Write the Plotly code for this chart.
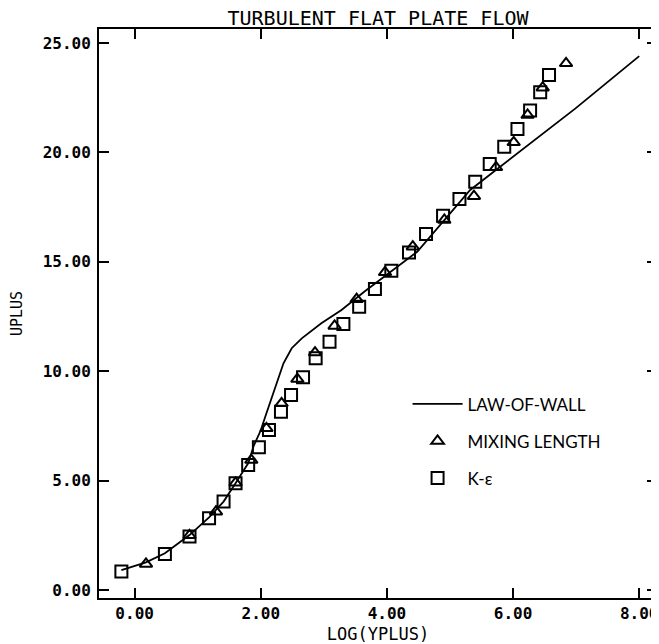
import plotly.graph_objects as go

# Law-of-wall curve
wall_x = [-0.21, 0.18, 0.48, 0.87, 1.18, 1.41, 1.60, 1.80, 1.89, 2.00, 2.08, 2.23, 2.36,
          2.49, 2.65, 2.96, 3.28, 3.64, 4.06, 4.48, 5.32, 6.99, 8.00]
wall_y = [0.91, 1.26, 1.68, 2.51, 3.32, 4.04, 4.88, 5.79, 6.60, 7.30, 8.00, 9.29, 10.36,
          11.05, 11.50, 12.19, 12.80, 13.63, 14.55, 15.46, 18.28, 22.01, 24.40]

# Mixing length (triangles)
ml_x = [0.18, 0.87, 1.29, 1.60, 1.85, 2.09, 2.33, 2.58, 2.86, 3.17, 3.52, 3.97, 4.41,
        4.91, 5.38, 5.73, 6.01, 6.23, 6.47, 6.84]
ml_y = [1.19, 2.50, 3.58, 4.90, 5.94, 7.39, 8.53, 9.64, 10.85, 12.07, 13.29, 14.52, 15.69,
        16.91, 18.00, 19.32, 20.46, 21.71, 22.96, 24.07]

# K-epsilon (squares)
ke_x = [-0.21, 0.48, 0.87, 1.18, 1.41, 1.60, 1.80, 1.97, 2.13, 2.32, 2.48, 2.67, 2.87,
        3.09, 3.31, 3.56, 3.81, 4.07, 4.35, 4.62, 4.89, 5.15, 5.40, 5.63, 5.86, 6.07,
        6.27, 6.43, 6.57]
ke_y = [0.84, 1.65, 2.44, 3.28, 4.04, 4.88, 5.71, 6.52, 7.31, 8.15, 8.91, 9.72, 10.59,
        11.35, 12.16, 12.95, 13.76, 14.59, 15.42, 16.27, 17.11, 17.87, 18.66, 19.47, 20.26,
        21.07, 21.91, 22.75, 23.54]

x_ticks = [0, 2, 4, 6, 8]
x_labels = ["0.00", "2.00", "4.00", "6.00", "8.00"]
y_ticks = [0, 5, 10, 15, 20, 25]
y_labels = ["0.00", "5.00", "10.00", "15.00", "20.00", "25.00"]

fig = go.Figure()
fig.add_trace(go.Scatter(x=wall_x, y=wall_y, mode="lines", name="LAW-OF-WALL",
                         line=dict(color="black", width=1.8), legendgroup="a"))
fig.add_trace(go.Scatter(x=ml_x, y=ml_y, mode="markers", name="MIXING LENGTH",
                         marker=dict(symbol="triangle-up-open", size=11, color="black",
                                     line=dict(width=2)), legendgroup="b"))
fig.add_trace(go.Scatter(x=ke_x, y=ke_y, mode="markers", name="K-ε",
                         marker=dict(symbol="square-open", size=12, color="black",
                                     line=dict(width=2)), legendgroup="c"))

tickfont = dict(family="DejaVu Sans Mono", size=16, color="black", weight="bold")
axis_common = dict(showgrid=False, zeroline=False, showline=True, linecolor="black",
                   linewidth=2, mirror="ticks", ticks="inside", ticklen=10, tickwidth=2,
                   tickcolor="black", tickfont=tickfont)

fig.update_layout(
    width=651, height=636,
    margin=dict(l=87, r=0, t=21, b=46),
    paper_bgcolor="white", plot_bgcolor="white",
    title=dict(text="TURBULENT FLAT PLATE FLOW", x=0.5, xref="paper", xanchor="center",
               y=0.995, yanchor="top", pad=dict(t=0, b=0),
               font=dict(family="DejaVu Sans Mono", size=20, color="black")),
    xaxis=dict(range=[-0.565, 8.282], tickvals=x_ticks, ticktext=x_labels,
               title=dict(text="LOG(YPLUS)", standoff=7,
                          font=dict(family="DejaVu Sans Mono", size=17, color="black")),
               **axis_common),
    yaxis=dict(range=[-0.366, 25.64], tickvals=y_ticks, ticktext=y_labels,
               ticklabelstandoff=3,
               title=dict(text="UPLUS", standoff=24,
                          font=dict(family="DejaVu Sans Mono", size=15, color="black")),
               **axis_common),
    legend=dict(x=0.553, y=0.372, xanchor="left", yanchor="top",
                font=dict(family="Lato", size=17, color="black"),
                traceorder="grouped", tracegroupgap=12, itemwidth=50,
                bgcolor="rgba(0,0,0,0)"),
    showlegend=True,
)

fig.write_html("out.html")
